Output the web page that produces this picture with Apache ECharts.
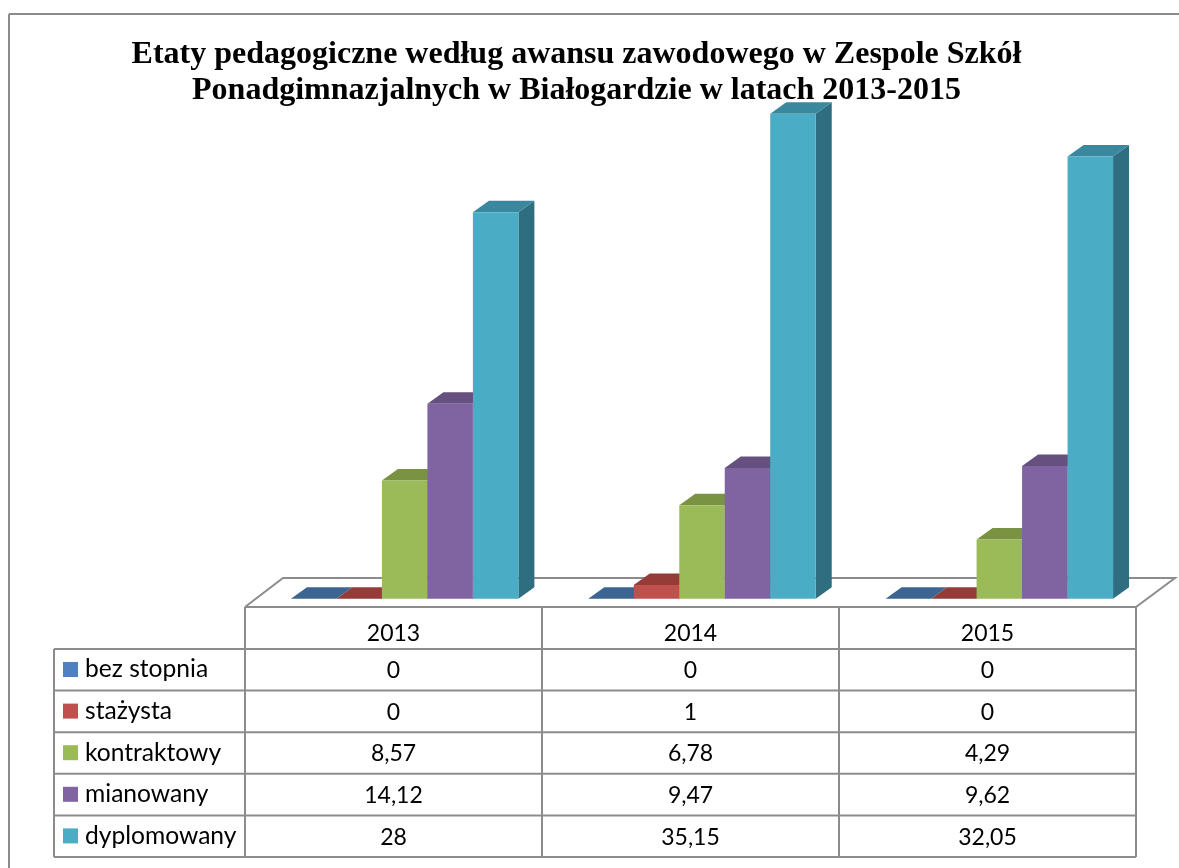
<!DOCTYPE html>
<html><head><meta charset="utf-8">
<style>html,body{margin:0;padding:0;background:#fff}#c{width:1179px;height:868px}</style>
<script src="https://cdn.jsdelivr.net/npm/echarts@6/dist/echarts.min.js"></script>
</head><body><div id="c"></div>
<script>
const titleLines = ['Etaty pedagogiczne według awansu zawodowego w Zespole Szkół','Ponadgimnazjalnych w Białogardzie w latach 2013-2015'];
const years = ['2013','2014','2015'];
const seriesNames = ['bez stopnia','stażysta','kontraktowy','mianowany','dyplomowany'];
const bezStopnia = [0,0,0];
const stazysta = [0,1,0];
const kontraktowy = [8.57,6.78,4.29];
const mianowany = [14.12,9.47,9.62];
const dyplomowany = [28,35.15,32.05];
const allValues = [bezStopnia,stazysta,kontraktowy,mianowany,dyplomowany];

const frontColors = ['#4F81BD','#C0504D','#9BBB59','#8064A2','#4BACC6'];
const topColors = ['#3D6592','#953C39','#7A9342','#65507F','#3A889E'];
const sideColors = ['#2F4D70','#72302E','#5D7033','#4C3C61','#2F6E80'];

const DX=16, DY=-11.5, BAR=0.153;
const LINE='#8C8C8C';
const colX=[245,542,839,1136], rowY=[607,649,690.6,732.2,773.8,815.4,857], tableLeft=54;

function renderBar(i){
  return function(params,api){
    const c=api.value(0), v=api.value(1);
    const top=api.coord([c,v]), base=api.coord([c,0]);
    const w=api.size([1,0])[0]*BAR;
    const x=top[0]-2.5*w+i*w, r=x+w, t=top[1], b=base[1];
    const children=[
      {type:'polygon',shape:{points:[[r,b],[r+DX,b+DY],[r+DX,t+DY],[r,t]]},style:{fill:sideColors[i]}},
      {type:'polygon',shape:{points:[[x,t],[x+DX,t+DY],[r+DX,t+DY],[r,t]]},style:{fill:topColors[i]}}
    ];
    if(v>0) children.push({type:'rect',shape:{x:x,y:t,width:w,height:b-t},style:{fill:frontColors[i]}});
    return {type:'group',children:children};
  };
}
function hline(y,x1,x2){return {type:'line',silent:true,z:1,shape:{x1:x1,y1:y,x2:x2,y2:y},style:{stroke:LINE,lineWidth:2}};}
function vline(x,y1,y2){return {type:'line',silent:true,z:1,shape:{x1:x,y1:y1,x2:x,y2:y2},style:{stroke:LINE,lineWidth:2}};}
const cellFont='23px Lato';
function cellText(x,y,t){return {type:'text',silent:true,z:5,style:{x:x,y:y,text:t,font:cellFont,fill:'#000',align:'center',verticalAlign:'middle'}};}

const gfx=[];
gfx.push(hline(14,9,1179),vline(9,14,868));
gfx.push({type:'polyline',silent:true,z:0,shape:{points:[[245,607],[283,578],[1175,578],[1136,607]]},style:{stroke:LINE,lineWidth:2,fill:'#fff'}});
gfx.push(hline(rowY[0],colX[0],colX[3]));
for(let r=1;r<rowY.length;r++) gfx.push(hline(rowY[r],tableLeft,colX[3]));
gfx.push(vline(tableLeft,rowY[1],rowY[6]));
colX.forEach(x=>gfx.push(vline(x,rowY[0],rowY[6])));
years.forEach((y,c)=>{
  const cx=(colX[c]+colX[c+1])/2;
  gfx.push(cellText(cx,633.5,y));
  allValues.forEach((vals,s)=>gfx.push(cellText(cx,(rowY[s+1]+rowY[s+2])/2+1,String(vals[c]).replace('.',','))));
});
titleLines.forEach((t,i)=>gfx.push({type:'text',silent:true,z:5,style:{x:576.5,y:55+i*35.5,text:t,font:'bold 32px "Liberation Serif"',fill:'#000',align:'center',verticalAlign:'middle'}}));

const chart=echarts.init(document.getElementById('c'),null,{renderer:'canvas'});
chart.setOption({
  animation:false,
  backgroundColor:'#fff',
  grid:{left:256,width:892,top:46.7,height:552},
  xAxis:{type:'category',data:years,show:false},
  yAxis:{type:'value',min:0,max:40,show:false},
  legend:{orient:'vertical',left:63,top:655,padding:0,itemWidth:15,itemHeight:15,itemGap:12.6,itemStyle:{borderWidth:0},icon:'rect',selectedMode:false,
    data:seriesNames,textStyle:{fontFamily:'Lato',fontSize:24.6,lineHeight:24,color:'#000',padding:[0,0,5,2]}},
  graphic:{elements:gfx},
  series:seriesNames.map((n,i)=>({name:n,type:'custom',z:3+i,
    renderItem:renderBar(i),itemStyle:{color:frontColors[i]},
    encode:{x:0,y:1},
    data:allValues[i].map((v,c)=>[c,v])}))
});
</script></body></html>
